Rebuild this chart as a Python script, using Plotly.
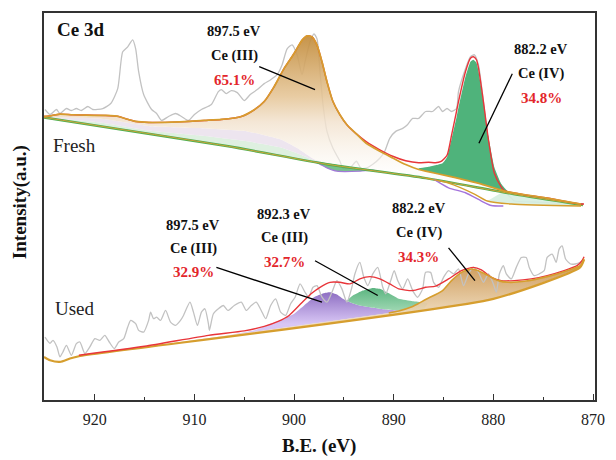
import plotly.graph_objects as go

# ---------------- Fresh catalyst ----------------
fresh_raw_be = [925.0, 924.5, 923.85, 923.5, 922.85, 922.35, 921.85, 921.35, 920.7, 920.2,
                919.2, 918.4, 917.7, 917.2, 916.7, 916.2, 915.9, 915.6, 915.1, 914.3,
                913.8, 913.3, 912.6, 911.9, 911.3, 910.6, 910.0, 909.3, 908.3, 907.6,
                907.3, 906.8, 906.3, 905.7, 905.0, 904.4, 903.7, 903.0, 902.35, 901.7,
                901.2, 900.7, 900.2, 899.7, 899.2, 898.9, 898.4, 898.0, 897.7, 897.4,
                897.1, 896.7, 896.1, 895.4, 895.1, 894.4, 893.75, 893.3, 892.8, 892.1,
                891.4, 890.9, 890.4, 889.8, 889.1, 888.6, 888.1, 887.5, 886.8, 886.1,
                885.5, 885.1, 884.65, 884.2, 883.7, 883.5, 882.8, 882.3, 881.9, 881.5,
                881.0, 880.5, 879.9, 878.9, 878.2, 877.9, 876.0, 874.0, 872.0, 871.0]
fresh_raw_i = [292, 287, 292, 288, 293, 291, 293, 291, 295, 292,
               293, 298, 313, 350, 355, 362, 353, 330, 307, 292,
               288, 281, 285, 288, 285, 281, 287, 292, 297, 310,
               312, 308, 311, 309, 301, 307, 312, 318, 322, 327,
               337, 353, 357, 347, 327, 340, 360, 368, 363, 330,
               297, 270, 253, 240, 233, 233, 240, 233, 233, 237,
               243, 250, 263, 270, 273, 277, 283, 283, 290, 290,
               295, 290, 293, 290, 293, 310, 333, 345, 347, 337,
               300, 260, 230, 210, 203, 200, 199, 198, 197, 197]

# fitted envelope
fresh_env_be = [925.1, 924.3, 923.5, 922.2, 918.9, 917.6, 916.9, 915.9, 914.6, 912.3,
                910.6, 909.0, 907.3, 905.3, 904.0, 903.0, 902.0, 901.0, 900.0, 899.2,
                898.7, 898.2, 897.7, 897.2, 896.7, 896.1, 895.4, 894.7, 893.75, 892.8,
                891.4, 890.1, 888.8, 887.5, 886.5, 885.8, 885.3, 884.65, 884.2, 883.7,
                883.5, 882.8, 882.3, 882.0, 881.7, 881.5, 881.0, 880.5, 879.9, 879.2,
                878.9, 877.5, 874.6, 871.2, 870.9]
fresh_env_i = [285, 286, 287.3, 286.7, 286, 285, 282.7, 280, 279, 279.3,
               280, 281, 282, 285, 291.7, 300, 315, 333.3, 348.3, 361.7,
               366, 365, 356.7, 340, 320, 300, 286.7, 276.7, 267.5, 260,
               251.5, 245, 240.5, 238.5, 239, 238.5, 239.5, 246, 266, 290,
               300, 330, 343.5, 345, 342, 334, 300, 262, 228, 214,
               210.5, 207.5, 203, 197, 197]

# Ce(III) component
fresh_c3_be = [925.1, 924.3, 923.5, 922.2, 918.9, 917.6, 916.9, 915.9, 914.6, 912.3,
               910.6, 909.0, 907.3, 905.3, 904.0, 903.0, 902.0, 901.0, 900.0, 899.2,
               898.7, 898.2, 897.7, 897.2, 896.7, 896.1, 895.4, 894.7, 893.75, 892.8,
               891.4, 890.1, 888.8, 887.5, 886.8, 884.5, 881.2, 878.9, 874.6, 871.2]
fresh_c3_i = [285, 286, 287.3, 286.7, 286, 285, 282.7, 280, 279, 279.3,
              280, 281, 282, 285, 291.7, 300, 315, 333.3, 348.3, 361.7,
              366, 365, 356.7, 340, 320, 300, 286.7, 276.7, 267.5, 258.3,
              250, 243.3, 236.7, 231.7, 230, 225, 217, 210, 203, 197]

# Ce(IV) component (top edge) and the Ce(III) tail it sits on
fresh_c4_be = [887.5, 886.5, 885.8, 885.1, 884.65, 884.2, 883.7, 883.5, 882.8, 882.3,
               882.0, 881.7, 881.5, 881.0, 880.5, 879.9, 879.2, 878.6, 878.3]
fresh_c4_i = [233, 234.5, 236, 238, 244, 262, 284, 294, 325, 340,
              342, 339, 331, 300, 265, 234, 217, 210, 208.5]
fresh_c4_floor_be = [878.3, 878.9, 881.2, 884.5, 886.8, 887.5]
fresh_c4_floor_i = [208.5, 210, 217, 225, 230, 231.7]

# linear background and the step backgrounds of the components
fresh_base_be = [925.1, 906.6, 896.7, 886.8, 878.0, 871.0]
fresh_base_i = [284, 255, 237, 223, 207, 196]
fresh_step_be = [925.1, 919.5, 914.6, 909.6, 904.7, 901.4, 899.7, 898.0, 896.7]
fresh_step_i = [284.5, 283, 275.5, 273.3, 270, 262, 253.3, 242, 237.5]
fresh_mid_be = [925.1, 919.5, 914.6, 909.6, 904.7, 901.4, 899.7, 898.0, 896.7]
fresh_mid_i = [284.2, 279, 271, 266, 260, 254, 248, 241, 237.2]

fresh_bg2_be = [886.8, 884.5, 881.9, 880.6, 878.2, 871.2]
fresh_bg2_i = [223, 218, 207, 200, 197, 195]
fresh_bg3_be = [886.0, 884.5, 882.8, 881.2, 880.2, 879.0]
fresh_bg3_i = [222, 213.3, 208.3, 200, 195.5, 195]
fresh_tail_be = [878.9, 874.6, 871.2]
fresh_tail_i = [210, 203, 197]

fresh_minor_be = [898.0, 897.4, 896.7, 895.7, 893.4, 892.1, 891.5]
fresh_minor_i = [240, 237, 233.3, 230, 230, 231, 229.5]
fresh_minor_top_be = [891.5, 894.7, 898.0]
fresh_minor_top_i = [229.5, 234.8, 240]

# ---------------- Used catalyst ----------------
used_raw_be = [925.0, 924.5, 924.2, 923.8, 923.5, 923.2, 922.85, 922.35, 921.85, 921.5,
               921.0, 920.5, 920.0, 919.5, 919.0, 918.55, 918.05, 917.6, 917.1, 916.7,
               916.4, 915.9, 915.6, 915.1, 914.6, 914.4, 914.1, 913.8, 913.4, 912.9,
               912.4, 911.9, 911.4, 911.1, 910.45, 910.1, 909.7, 909.3, 908.95, 908.6,
               908.5, 908.1, 907.6, 907.1, 906.65, 906.0, 905.3, 904.8, 904.3, 903.8,
               903.3, 902.85, 902.35, 901.85, 901.35, 900.85, 900.35, 899.9, 899.4, 898.9,
               898.55, 898.1, 897.7, 897.2, 896.7, 896.2, 895.7, 895.2, 894.7, 894.2,
               893.9, 893.4, 893.0, 892.6, 892.1, 891.6, 891.1, 890.8, 890.3, 889.95,
               889.6, 889.1, 888.6, 888.1, 887.6, 887.1, 886.8, 886.3, 886.0, 885.5,
               885.0, 884.5, 884.0, 883.5, 883.0, 882.5, 882.0, 881.5, 881.0, 880.5,
               880.0, 879.7, 879.4, 879.0, 878.7, 878.2, 877.7, 877.2, 876.7, 876.4,
               875.9, 875.4, 874.9, 874.6, 874.1, 873.7, 873.4, 873.1, 872.75, 872.25,
               871.8, 871.3, 870.9]
used_raw_i = [63.3, 57, 60, 53.3, 43.3, 48.3, 55, 45, 56.7, 58.3,
              46.7, 53.3, 61.7, 60, 65, 58.3, 51.7, 58.3, 61.7, 73.3,
              80, 76.7, 70, 68.3, 80, 88.3, 81.7, 83.3, 80, 90,
              78.3, 75, 80, 85, 98.3, 88.3, 75, 88.3, 91.7, 76.7,
              70, 86.7, 91.7, 95, 90, 95, 98.3, 90, 95, 98.3,
              90, 81.7, 95, 101.7, 88.3, 85, 96.7, 103.3, 116.7, 108.3,
              103.3, 113.3, 115, 103.3, 98.3, 108.3, 120, 111.7, 98.3, 113.3,
              126.7, 138.3, 123.3, 115, 126.7, 133.3, 113.3, 106.7, 120, 130,
              120, 111.7, 121.7, 110, 103.3, 111.7, 128.3, 128.3, 118.3, 113.3,
              123.3, 130, 126.7, 131.7, 115, 126.7, 133.3, 128.3, 118.3, 126.7,
              116.7, 108.3, 126.7, 135, 126.7, 121.7, 133.3, 143.3, 143.3, 133.3,
              125, 126.7, 130, 143.3, 146.7, 138.3, 151.7, 155, 141.7, 136.7,
              136.7, 138.3, 141.7]

used_env_be = [921.6, 915.0, 908.6, 905.0, 903.0, 901.6, 900.5, 899.2, 898.2, 897.4,
               896.4, 895.4, 894.4, 893.4, 892.4, 891.4, 890.4, 889.5, 888.1, 886.8,
               885.8, 884.5, 883.2, 882.0, 881.2, 880.2, 879.2, 877.9, 876.2, 874.6,
               872.9, 871.6, 871.1, 870.9]
used_env_i = [45, 54, 65, 69.5, 74, 79, 85, 98, 107.5, 113.3,
              118.3, 118.3, 116.7, 121.7, 124, 121.7, 116.7, 111.7, 110, 113.3,
              114.5, 121.7, 130, 133.3, 130.7, 123.3, 120, 120, 121.7, 125,
              130, 135, 140, 144]

used_base_be = [925.1, 924.5, 923.5, 922.5, 921.6, 880.0, 871.3, 870.9]
used_base_i = [43.3, 40, 38.3, 41.7, 44, 101.7, 133.3, 141]

# Ce(III) at 897.5 eV
used_c3a_be = [906.5, 904.0, 902.35, 901.0, 900.0, 899.0, 898.0, 897.05, 896.4, 895.7,
               895.1, 894.4, 893.4, 892.1, 890.8, 889.5, 888.1, 887.0]
used_c3a_i = [65, 70, 76.7, 81.7, 86.7, 95, 103.3, 107.3, 108.3, 106,
              101.7, 98.3, 95, 92.7, 91, 90, 90, 91.5]

# Ce(III) at 892.3 eV
used_c3b_be = [894.7, 894.1, 893.1, 892.1, 891.4, 890.4, 889.5, 888.1, 887.1, 886.6]
used_c3b_i = [100, 105, 110, 112.7, 111.7, 106.7, 101.7, 99.3, 98.3, 97]

# Ce(IV) at 882.2 eV
used_c4_be = [890.5, 889.5, 888.1, 887.6, 886.8, 885.1, 884.2, 883.2, 882.2, 881.5,
              880.5, 879.5, 878.5, 876.9, 874.6, 872.6, 871.3, 870.9]
used_c4_i = [87.5, 89.5, 94, 96.5, 101, 110, 120, 128.3, 131.7, 130,
             125, 120, 118.3, 119.3, 124, 130, 135, 142]

FONT = "Liberation Serif"
GRAY = "#c2c2c2"
RED = "#e8353a"
GOLD = "#d69e2e"
SPLINE = dict(shape="spline", smoothing=0.6)


def band(top_x, top_y, bot_x, bot_y):
    """Closed outline: along the top edge, then back along the bottom edge."""
    bx = list(bot_x)
    by = list(bot_y)
    if bx[0] > bx[-1]:
        bx, by = bx[::-1], by[::-1]
    return list(top_x) + bx, list(top_y) + by


def area(fig, xs, ys, color=None, grad=None):
    kw = dict(x=xs, y=ys, mode="lines", fill="toself", hoverinfo="skip",
              line=dict(width=0, shape="spline", smoothing=0.4), showlegend=False)
    if grad is not None:
        kw["fillgradient"] = grad
        kw["fillcolor"] = "rgba(0,0,0,0)"
    else:
        kw["fillcolor"] = color
    fig.add_trace(go.Scatter(**kw))


def curve(fig, xs, ys, color, width):
    fig.add_trace(go.Scatter(x=xs, y=ys, mode="lines", hoverinfo="skip", showlegend=False,
                             line=dict(color=color, width=width, **SPLINE)))


fig = go.Figure()

# ---- Fresh ----
curve(fig, fresh_raw_be, fresh_raw_i, GRAY, 1.3)
# pale step-background bands
x, y = band(fresh_mid_be, fresh_mid_i, fresh_base_be[:3], fresh_base_i[:3])
area(fig, x, y, color="rgba(214,236,216,0.8)")
x, y = band(fresh_step_be, fresh_step_i, fresh_mid_be, fresh_mid_i)
area(fig, x, y, color="rgba(234,224,236,0.85)")
x, y = band(fresh_tail_be, fresh_tail_i, fresh_bg2_be[3:], fresh_bg2_i[3:])
area(fig, x, y, color="rgba(214,238,224,0.9)")
# Ce(III) component with vertical shading
lower_be = fresh_step_be[:-1] + fresh_base_be[2:]
lower_i = fresh_step_i[:-1] + fresh_base_i[2:]
x, y = band(fresh_c3_be, fresh_c3_i, lower_be, lower_i)
area(fig, x, y, grad=dict(type="vertical", start=232, stop=366,
                           colorscale=[[0, "rgba(253,251,247,0.5)"], [0.36, "rgba(242,226,206,0.85)"],
                                       [0.55, "rgba(229,197,150,0.88)"], [1, "rgba(194,139,58,0.92)"]]))
# Ce(IV) component
x, y = band(fresh_c4_be, fresh_c4_i, fresh_c4_floor_be, fresh_c4_floor_i)
area(fig, x, y, color="#4fb37b")
x, y = band(fresh_minor_be, fresh_minor_i, fresh_minor_top_be, fresh_minor_top_i)
area(fig, x, y, color="rgba(96,182,120,0.85)")
curve(fig, fresh_minor_be, fresh_minor_i, "#a27ad8", 1.2)
curve(fig, fresh_base_be, fresh_base_i, "#4caf50", 2.4)
curve(fig, fresh_base_be, fresh_base_i, "#cfa23a", 1.0)
curve(fig, fresh_bg3_be, fresh_bg3_i, "#a474dc", 1.4)
curve(fig, fresh_bg2_be, fresh_bg2_i, GOLD, 1.4)
curve(fig, fresh_env_be, fresh_env_i, RED, 1.4)
curve(fig, fresh_c3_be, fresh_c3_i, GOLD, 1.7)

# ---- Used ----
x, y = band(used_c3a_be, used_c3a_i, used_base_be[4:6], used_base_i[4:6])
area(fig, x, y, grad=dict(type="vertical", start=78, stop=108,
                           colorscale=[[0, "rgba(212,192,244,0.9)"], [1, "rgba(140,108,194,0.95)"]]))
x, y = band(used_c3b_be, used_c3b_i, used_c3a_be[10:], used_c3a_i[10:])
area(fig, x, y, grad=dict(type="vertical", start=92, stop=113,
                           colorscale=[[0, "rgba(150,212,172,0.95)"], [1, "rgba(86,178,124,0.95)"]]))
x, y = band(used_c4_be, used_c4_i, used_base_be[4:], used_base_i[4:])
area(fig, x, y, grad=dict(type="vertical", start=90, stop=132,
                           colorscale=[[0, "rgba(236,214,180,0.95)"], [1, "rgba(208,158,94,0.95)"]]))
curve(fig, used_raw_be, used_raw_i, GRAY, 1.3)
curve(fig, used_base_be, used_base_i, GOLD, 2.2)
curve(fig, used_env_be, used_env_i, RED, 1.4)
curve(fig, used_c4_be, used_c4_i, GOLD, 1.6)

# ---- peak callouts: label rows, text x, row heights, leader start, leader end ----
callouts = [
    (("897.5 eV", "Ce (III)", "65.1%"), 906.0, (371, 346, 322), (903.5, 335), (897.9, 312)),
    (("882.2 eV", "Ce (IV)", "34.8%"), 875.2, (353, 328, 304), (878.1, 328), (881.45, 258)),
    (("897.5 eV", "Ce (III)", "32.9%"), 910.1, (176, 152, 129), (907.8, 133.3), (897.2, 98.3)),
    (("892.3 eV", "Ce (III)", "32.7%"), 901.0, (187, 163, 138.5), (897.9, 140), (891.6, 105)),
    (("882.2 eV", "Ce (IV)", "34.3%"), 887.5, (193, 168.5, 143.5), (884.5, 153), (881.85, 120)),
]
for lines, tx, tys, p0, p1 in callouts:
    for k, (txt, ty) in enumerate(zip(lines, tys)):
        fig.add_annotation(x=tx, y=ty, xref="x", yref="y", text=txt, showarrow=False,
                           font=dict(family=FONT, size=14.5 if k < 2 else 15,
                                     color="#111" if k < 2 else "#e3262b", weight="bold"))
    fig.add_shape(type="line", xref="x", yref="y", x0=p0[0], y0=p0[1], x1=p1[0], y1=p1[1],
                  line=dict(color="black", width=1.3))

fig.add_annotation(x=924.0, y=372, xref="x", yref="y", text="Ce 3d", showarrow=False,
                   xanchor="left", font=dict(family=FONT, size=19, color="#111", weight="bold"))
fig.add_annotation(x=924.4, y=256, xref="x", yref="y", text="Fresh", showarrow=False,
                   xanchor="left", font=dict(family=FONT, size=19, color="#222"))
fig.add_annotation(x=924.2, y=92, xref="x", yref="y", text="Used", showarrow=False,
                   xanchor="left", font=dict(family=FONT, size=19, color="#222"))

# axis titles
fig.add_annotation(x=-0.043, y=0.512, xref="paper", yref="paper", text="Intensity(a.u.)",
                   textangle=-90, showarrow=False, xanchor="center", yanchor="middle",
                   font=dict(family=FONT, size=19, color="#111", weight="bold"))
fig.add_annotation(x=0.499, y=-0.118, xref="paper", yref="paper", text="B.E. (eV)",
                   showarrow=False, xanchor="center", yanchor="middle",
                   font=dict(family=FONT, size=19, color="#111", weight="bold"))

AX = "#333333"
fig.update_xaxes(range=[925.1, 869.8], showgrid=False, zeroline=False, showline=True,
                 linecolor=AX, linewidth=1.6, mirror=True, ticks="inside", ticklen=6,
                 tickwidth=1.4, tickcolor=AX, tick0=870, dtick=10,
                 minor=dict(dtick=5, ticks="inside", ticklen=3.5, tickwidth=1.2, tickcolor=AX),
                 tickfont=dict(family=FONT, size=16, color="#222"), ticklabelstandoff=4)
fig.update_yaxes(range=[0, 389], showgrid=False, zeroline=False, showline=True,
                 linecolor=AX, linewidth=1.6, mirror=True, ticks="", showticklabels=False)
fig.update_layout(width=616, height=460, margin=dict(l=44, r=15, t=11, b=60),
                  paper_bgcolor="white", plot_bgcolor="white", showlegend=False)

fig.write_html("out.html")
